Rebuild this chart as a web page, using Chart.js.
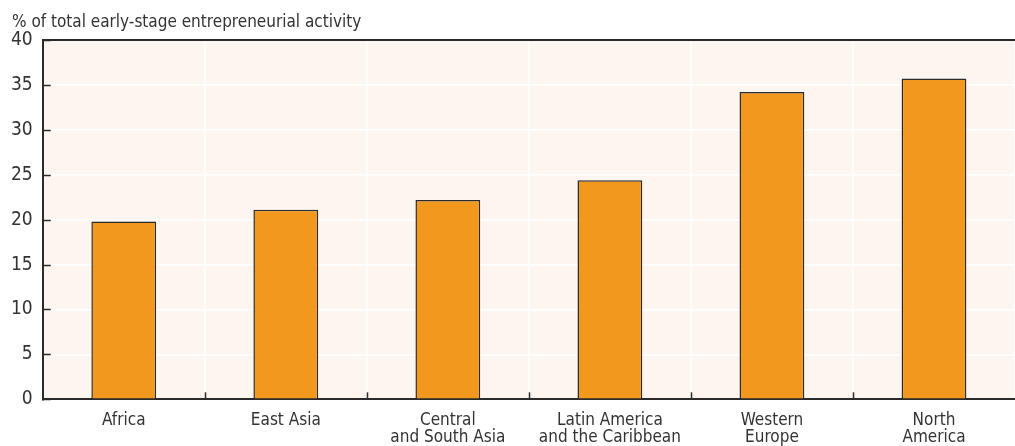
<!DOCTYPE html>
<html>
<head>
<meta charset="utf-8">
<script src="https://cdn.jsdelivr.net/npm/chart.js@4/dist/chart.umd.min.js"></script>
<style>
  html, body { margin: 0; padding: 0; background: #fff; }
  #wrap { width: 1015px; height: 446px; }
</style>
</head>
<body>
<div id="wrap"><canvas id="grafico"></canvas></div>
<script>
const regiones = [
  ["Africa"],
  ["East Asia"],
  ["Central", "and South Asia"],
  ["Latin America", "and the Caribbean"],
  ["Western", "Europe"],
  ["North", "America"]
];
const valores = [19.8, 21.1, 22.2, 24.4, 34.2, 35.7];
const ticksY = [0, 5, 10, 15, 20, 25, 30, 35, 40];
const tituloY = "% of total early-stage entrepreneurial activity";

const fuente = "'Liberation Sans Narrow', 'DejaVu Sans Condensed', 'Roboto', sans-serif";
const oscuro = "#2b2b2b";

// fondo del area, titulo del eje y marcas
const marcoPlugin = {
  id: "marco",
  beforeDraw(chart) {
    const { ctx, chartArea: a } = chart;
    ctx.save();
    ctx.fillStyle = "#fdf6f0";
    ctx.fillRect(a.left, a.top, a.right - a.left, a.bottom - a.top);
    ctx.fillStyle = "#333";
    ctx.font = "17px " + fuente;
    ctx.textBaseline = "alphabetic";
    ctx.fillText(tituloY, 12, 27);
    ctx.restore();
  },
  afterDatasetsDraw(chart) {
    const { ctx, chartArea: a, scales } = chart;
    ctx.save();
    ctx.strokeStyle = oscuro;
    ctx.lineWidth = 1.5;
    // marcas y
    scales.y.ticks.forEach(t => {
      const py = Math.round(scales.y.getPixelForValue(t.value)) + 0.5;
      ctx.beginPath();
      ctx.moveTo(a.left, py);
      ctx.lineTo(a.left + 8, py);
      ctx.stroke();
    });
    // marcas x entre categorias
    for (let i = 0; i < regiones.length - 1; i++) {
      const px = Math.round((scales.x.getPixelForValue(i) + scales.x.getPixelForValue(i + 1)) / 2) + 0.5;
      ctx.beginPath();
      ctx.moveTo(px, a.bottom);
      ctx.lineTo(px, a.bottom - 7);
      ctx.stroke();
    }
    // borde superior
    ctx.lineWidth = 2;
    ctx.beginPath();
    ctx.moveTo(a.left, a.top);
    ctx.lineTo(a.right, a.top);
    ctx.stroke();
    ctx.restore();
  }
};

new Chart(document.getElementById("grafico"), {
  type: "bar",
  data: {
    labels: regiones,
    datasets: [{
      data: valores,
      backgroundColor: "#f2981c",
      borderColor: oscuro,
      borderWidth: 1.5,
      categoryPercentage: 1,
      barPercentage: 0.40
    }]
  },
  options: {
    responsive: true,
    maintainAspectRatio: false,
    animation: false,
    layout: { padding: { left: 1, right: 0, top: 40, bottom: -13 } },
    plugins: {
      legend: { display: false },
      tooltip: { enabled: false },
      title: { display: false }
    },
    scales: {
      x: {
        grid: { color: "#ffffff", lineWidth: 1.5, drawTicks: false, offset: true },
        border: { color: oscuro, width: 2 },
        ticks: {
          color: "#333",
          font: { family: fuente, size: 17, lineHeight: 1.05 },
          padding: 12,
          maxRotation: 0,
          autoSkip: false
        }
      },
      y: {
        min: 0,
        max: 40,
        afterBuildTicks(axis) { axis.ticks = ticksY.map(v => ({ value: v })); },
        grid: { color: "#ffffff", lineWidth: 1.5, drawTicks: false },
        border: { color: oscuro, width: 2 },
        ticks: {
          color: "#333",
          font: { family: fuente, size: 19 },
          padding: 10
        }
      }
    }
  },
  plugins: [marcoPlugin]
});
</script>
</body>
</html>
